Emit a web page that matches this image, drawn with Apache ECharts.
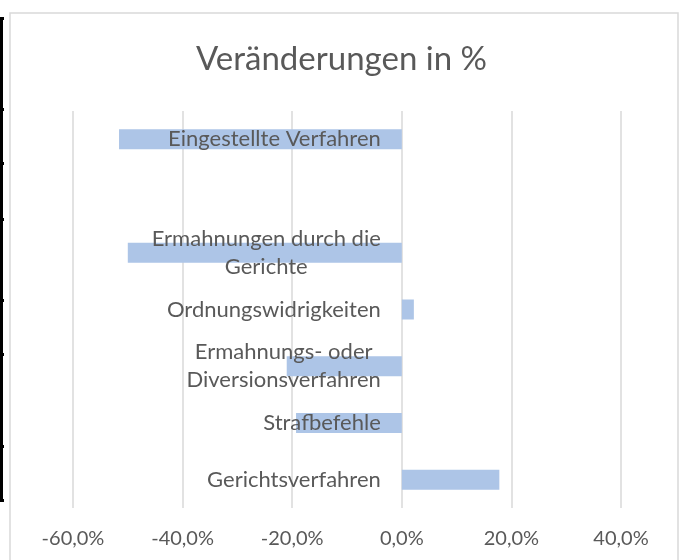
<!DOCTYPE html>
<html>
<head>
<meta charset="utf-8">
<script src="https://cdn.jsdelivr.net/npm/echarts@6/dist/echarts.min.js"></script>
<style>
    html, body { margin: 0; padding: 0; background: #fff; }
    #main { width: 683px; height: 560px; }
</style>
</head>
<body>
<div id="main"></div>
<script>
// categories listed bottom to top (ECharts category y axis starts at the bottom)
var categories = [
    'Gerichtsverfahren',
    'Strafbefehle',
    'Ermahnungs- oder\nDiversionsverfahren',
    'Ordnungswidrigkeiten',
    'Ermahnungen durch die\nGerichte',
    '',
    'Eingestellte Verfahren'
];
var changes = [17.8, -19.3, -21.0, 2.2, -50.0, null, -51.6];
// category names sit next to the zero line, so they hang off a zero-length bar
var labelAnchor = [0, 0, 0, 0, 0, 0, 0];

var xMin = -60, xMax = 40, xStep = 20;

var textColor = '#595959';
var gridColor = '#d9d9d9';
var font = 'Lato';

var chart = echarts.init(document.getElementById('main'));

var option = {
    animation: false,
    title: {
        text: 'Veränderungen in %',
        left: 'center',
        top: 38,
        textStyle: {
            fontFamily: font,
            fontSize: 33,
            fontWeight: 'normal',
            color: textColor
        }
    },
    grid: {
        left: 73,
        right: 62,
        top: 111,
        bottom: 52,
        containLabel: false,
        outerBoundsMode: 'none'
    },
    xAxis: {
        type: 'value',
        min: xMin,
        max: xMax,
        interval: xStep,
        axisLine: { show: false },
        axisTick: { show: false },
        splitLine: { lineStyle: { color: gridColor, width: 1.5 } },
        axisLabel: {
            margin: 21,
            fontFamily: font,
            fontSize: 20,
            color: textColor,
            formatter: function (v) {
                return v.toFixed(1).replace('.', ',') + '%';
            }
        }
    },
    yAxis: {
        type: 'category',
        data: categories,
        axisLine: { show: false },
        axisTick: { show: false },
        axisLabel: { show: false }
    },
    series: [{
        type: 'bar',
        data: changes,
        barWidth: 20,
        itemStyle: { color: '#adc5e7' },
        z: 2
    }, {
        type: 'bar',
        data: labelAnchor,
        barWidth: 20,
        barGap: '-100%',
        itemStyle: { color: 'transparent' },
        silent: true,
        z: 3,
        label: {
            show: true,
            position: 'left',
            distance: 21,
            fontFamily: font,
            fontSize: 22,
            color: textColor,
            lineHeight: 28,
            formatter: function (p) {
                if (!p.name) return '';
                return p.name.split('\n').map(function (l) { return '{c|' + l + '}'; }).join('\n');
            },
            rich: {
                c: { align: 'center', fontFamily: font, fontSize: 22, color: textColor, lineHeight: 28 }
            }
        }
    }],
    graphic: [
        { type: 'rect', silent: true, shape: { x: 10, y: 13, width: 668, height: 560 },
          style: { fill: 'none', stroke: gridColor, lineWidth: 1.5 } },
        { type: 'rect', silent: true, shape: { x: 0, y: 17, width: 3, height: 485 }, style: { fill: '#000' } },
        { type: 'group', silent: true, children: [17, 108, 162, 218, 299, 353, 445, 499].map(function (y) {
            return { type: 'rect', shape: { x: 0, y: y, width: 4, height: 3 }, style: { fill: '#000' } };
        }) }
    ]
};

chart.setOption(option);
</script>
</body>
</html>
